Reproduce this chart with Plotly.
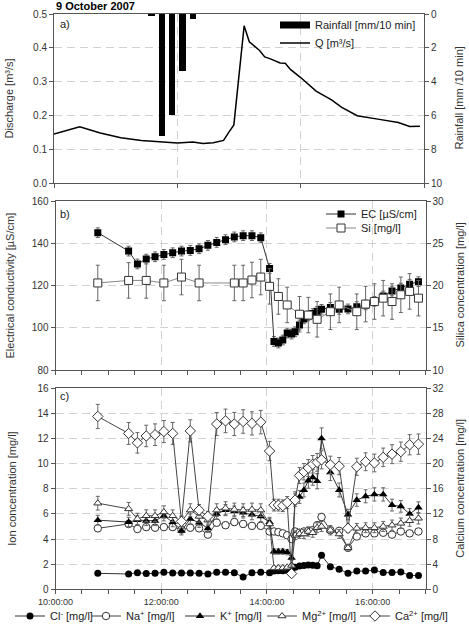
import plotly.graph_objects as go

# ---------------- data ----------------
q_times = ["10:00", "10:25", "10:45", "11:05", "11:25", "11:45", "12:00", "12:15", "12:25", "12:35",
           "12:45", "12:50", "12:55", "13:05", "13:10", "13:15", "13:20", "13:25", "13:30", "13:40",
           "13:45", "13:50", "14:00", "14:15", "14:30", "14:40", "14:55", "15:15", "15:35", "15:46", "15:56"]
q_vals = [0.145, 0.166, 0.148, 0.134, 0.126, 0.122, 0.118, 0.121, 0.117, 0.119,
          0.126, 0.150, 0.172, 0.465, 0.418, 0.405, 0.392, 0.373, 0.368, 0.355,
          0.354, 0.336, 0.312, 0.272, 0.246, 0.224, 0.199, 0.189, 0.179, 0.167, 0.168]

rain_times = ["11:35", "11:45", "11:55", "12:05", "12:15"]
rain_vals = [0.12, 7.2, 6.0, 3.4, 0.3]

ec_times = ["10:48", "11:23", "11:33", "11:43", "11:53", "12:03", "12:13", "12:23", "12:33", "12:43",
            "12:53", "13:03", "13:13", "13:23", "13:33", "13:43", "13:53", "14:03", "14:08", "14:13",
            "14:18", "14:23", "14:28", "14:32", "14:37", "14:42", "14:47", "14:52", "14:57", "15:02",
            "15:12", "15:22", "15:32", "15:42", "15:52", "16:02", "16:12", "16:22", "16:32", "16:42", "16:52"]
ec_vals = [145.0, 136.3, 130.2, 132.5, 133.6, 134.7, 135.5, 136.3, 136.6, 137.4,
           139.0, 140.4, 141.7, 143.0, 143.6, 143.6, 142.6, 128.1, 93.5, 92.8,
           94.2, 97.5, 97.0, 98.1, 101.3, 104.2, 105.6, 106.7, 107.8, 108.7,
           109.6, 108.7, 108.9, 110.0, 110.8, 112.5, 115.0, 117.4, 118.8, 120.6, 121.8]

si_times = ["10:48", "11:23", "11:43", "12:03", "12:23", "12:43", "13:23", "13:33", "13:43", "13:53",
            "14:03", "14:13", "14:23", "14:37", "14:47", "14:57", "15:12", "15:22", "15:42", "15:52",
            "16:02", "16:12", "16:22", "16:32", "16:42", "16:52"]
si_vals = [20.3, 20.6, 20.6, 20.3, 21.0, 20.3, 20.3, 20.3, 20.65, 21.0,
           19.9, 18.7, 17.7, 16.6, 16.5, 16.0, 16.9, 17.7, 16.9, 17.8,
           18.1, 18.5, 18.1, 18.9, 19.3, 18.5]

ion_times = ec_times
cl_vals = [1.27, 1.22, 1.32, 1.25, 1.27, 1.35, 1.30, 1.30, 1.30, 1.28,
           1.22, 1.35, 1.35, 1.32, 0.97, 1.32, 1.35, 1.32, 1.45, 1.48,
           1.48, 1.50, 1.60, 1.75, 1.85, 1.90, 1.93, 1.92, 1.88, 2.70,
           1.80, 1.60, 1.27, 1.45, 1.45, 1.53, 1.33, 1.33, 1.38, 1.10, 1.10]
na_vals = [4.85, 5.20, 4.80, 4.95, 4.90, 4.95, 4.95, 4.75, 4.90, 4.85,
           4.35, 5.30, 5.10, 5.35, 5.20, 5.05, 5.05, 4.60, 4.60, 4.55,
           4.45, 4.30, 4.00, 4.60, 4.50, 4.60, 4.65, 4.70, 5.10, 5.75,
           4.70, 4.65, 3.30, 4.20, 4.45, 4.45, 4.50, 4.35, 4.60, 4.45, 4.60]
k_vals = [5.50, 5.35, 5.50, 5.45, 5.45, 5.85, 5.35, 4.65, 5.60, 5.30,
          4.85, 6.00, 6.30, 6.20, 6.10, 5.95, 5.80, 5.35, 3.00, 3.00,
          3.00, 2.95, 2.50, 7.25, 7.35, 7.90, 8.65, 8.90, 8.60, 12.00,
          9.30, 7.90, 5.95, 7.10, 7.40, 7.55, 7.55, 6.70, 6.60, 6.00, 6.50]
mg_vals = [6.85, 6.40, 5.60, 5.85, 5.85, 6.15, 5.85, 5.40, 6.30, 5.80,
           5.50, 6.30, 6.45, 6.35, 6.30, 6.35, 6.30, 5.20, 1.70, 1.70,
           1.70, 1.75, 1.90, 4.30, 4.40, 4.40, 4.60, 4.50, 4.90, 5.00,
           4.70, 4.40, 3.30, 4.85, 4.90, 4.90, 5.00, 5.10, 5.25, 5.45, 5.65]
ca_vals = [27.5, 24.8, 23.3, 24.4, 24.6, 25.1, 24.8, 10.8, 25.2, 12.6,
           11.6, 26.3, 26.8, 26.3, 26.7, 26.4, 26.6, 22.0, 13.4, 13.4,
           13.3, 13.8, 2.5, 14.2, 18.1, 18.7, 19.3, 19.9, 20.2, 20.6,
           19.8, 19.6, 9.7, 19.5, 20.3, 20.1, 21.0, 21.5, 21.9, 23.0, 23.1]

x_tick_vals = [10, 12, 14, 16]
x_tick_text = ["10:00:00", "12:00:00", "14:00:00", "16:00:00"]


def hrs(t):
    h, m = t.split(":")
    return int(h) + int(m) / 60.0


W, H = 469, 629
FONT = "Liberation Sans, Arial, sans-serif"


def px(p):
    return p / W


def py(p):
    return 1 - p / H


xa_dom = [px(54), px(424)]
xbc_dom = [px(55.5), px(425.5)]
ya_dom = [py(183), py(14)]
yb_dom = [py(370), py(201)]
yc_dom = [py(589.3), py(388.2)]

LINE = "#555"
GRID = "#d2d2d2"
TXT = "#333"
ERR = "#666"

fig = go.Figure()

# ---- panel a ----
fig.add_trace(go.Bar(x=[hrs(t) for t in rain_times], y=rain_vals, xaxis="x", yaxis="y2",
                     marker=dict(color="black", line=dict(width=0)), width=0.105,
                     showlegend=False))
fig.add_trace(go.Scatter(x=[None], y=[None], xaxis="x", yaxis="y2", mode="lines",
                         line=dict(color="black", width=7), name="Rainfall [mm/10 min]",
                         legend="legend"))
fig.add_trace(go.Scatter(x=[hrs(t) for t in q_times], y=q_vals, xaxis="x", yaxis="y",
                         mode="lines", line=dict(color="black", width=1.5),
                         name="Q [m³/s]", legend="legend2"))

# ---- panel b ----
fig.add_trace(go.Scatter(x=[hrs(t) for t in ec_times], y=ec_vals, xaxis="x2", yaxis="y3",
                         mode="lines+markers", line=dict(color="#333", width=1),
                         marker=dict(symbol="square", size=7, color="black"),
                         error_y=dict(type="constant", value=2.3, color=ERR, thickness=1, width=2),
                         name="EC [µS/cm]", legend="legend3"))
fig.add_trace(go.Scatter(x=[hrs(t) for t in si_times], y=si_vals, xaxis="x2", yaxis="y4",
                         mode="lines+markers", line=dict(color="#888", width=1),
                         marker=dict(symbol="square", size=8, color="white",
                                     line=dict(color="#333", width=1)),
                         error_y=dict(type="constant", value=2.1, color=ERR, thickness=1, width=2),
                         name="Si [mg/l]", legend="legend4"))

# ---- panel c ----
tt = [hrs(t) for t in ion_times]
fig.add_trace(go.Scatter(x=tt, y=cl_vals, xaxis="x3", yaxis="y5", mode="lines+markers",
                         line=dict(color="#333", width=1),
                         marker=dict(symbol="circle", size=7, color="black"),
                         name="Cl<sup>-</sup> [mg/l]", legend="legend5"))
fig.add_trace(go.Scatter(x=tt, y=na_vals, xaxis="x3", yaxis="y5", mode="lines+markers",
                         line=dict(color="#444", width=1),
                         marker=dict(symbol="circle", size=7.5, color="white",
                                     line=dict(color="#333", width=1)),
                         error_y=dict(type="percent", value=5, color=ERR, thickness=1, width=2),
                         name="Na<sup>+</sup> [mg/l]", legend="legend6"))
fig.add_trace(go.Scatter(x=tt, y=k_vals, xaxis="x3", yaxis="y5", mode="lines+markers",
                         line=dict(color="#333", width=1),
                         marker=dict(symbol="triangle-up", size=7.5, color="black"),
                         error_y=dict(type="percent", value=7, color=ERR, thickness=1, width=2),
                         name="K<sup>+</sup> [mg/l]", legend="legend7"))
fig.add_trace(go.Scatter(x=tt, y=mg_vals, xaxis="x3", yaxis="y5", mode="lines+markers",
                         line=dict(color="#444", width=1),
                         marker=dict(symbol="triangle-up", size=7, color="white",
                                     line=dict(color="#333", width=1)),
                         error_y=dict(type="percent", value=8, color=ERR, thickness=1, width=2),
                         name="Mg<sup>2+</sup> [mg/l]", legend="legend8"))
fig.add_trace(go.Scatter(x=tt, y=ca_vals, xaxis="x3", yaxis="y6", mode="lines+markers",
                         line=dict(color="#444", width=1),
                         marker=dict(symbol="diamond", size=8, color="white",
                                     line=dict(color="#333", width=1)),
                         error_y=dict(type="percent", value=7, color=ERR, thickness=1, width=2),
                         name="Ca<sup>2+</sup> [mg/l]", legend="legend9"))

# ---- axes ----
base = dict(showline=True, linecolor=LINE, linewidth=1, ticks="outside", ticklen=4,
            tickcolor=LINE, tickfont=dict(size=10, color=TXT, family=FONT), zeroline=False)
grid = dict(showgrid=True, gridcolor=GRID, griddash="8px,5px", gridwidth=1)
nogrid = dict(showgrid=False)

fig.update_layout(
    xaxis=dict(**base, **grid, domain=xa_dom, anchor="y", range=[10, 16], tickmode="linear",
               tick0=10, dtick=2, showticklabels=False, mirror=True),
    yaxis=dict(**base, **grid, domain=ya_dom, anchor="x", range=[0, 0.5], dtick=0.1,
               tickformat=".1f"),
    yaxis2=dict(**base, **nogrid, overlaying="y", side="right", anchor="x", range=[10, 0],
                dtick=2),
    xaxis2=dict(**base, **grid, domain=xbc_dom, anchor="y3", range=[10, 17], tickmode="linear",
                tick0=10, dtick=2, showticklabels=False, mirror=True,
                minor=dict(tick0=10, dtick=0.5, ticks="outside", ticklen=4, tickcolor=LINE,
                           showgrid=False)),
    yaxis3=dict(**base, **grid, domain=yb_dom, anchor="x2", range=[80, 160], dtick=20),
    yaxis4=dict(**base, **nogrid, overlaying="y3", side="right", anchor="x2", range=[10, 30],
                dtick=5),
    xaxis3=dict(**base, **grid, domain=xbc_dom, anchor="y5", range=[10, 17], tickmode="array",
                tickvals=x_tick_vals, ticktext=x_tick_text, mirror=True,
                minor=dict(tick0=10, dtick=0.5, ticks="outside", ticklen=4, tickcolor=LINE,
                           showgrid=False)),
    yaxis5=dict(**base, **grid, domain=yc_dom, anchor="x3", range=[0, 16], dtick=2),
    yaxis6=dict(**base, **nogrid, overlaying="y5", side="right", anchor="x3", range=[0, 32],
                dtick=4),
)
fig.update_xaxes(selector=dict(anchor="y5"), tickfont=dict(size=9, color=TXT, family=FONT))

# ---- legends ----
def leg(xp, yp):
    return dict(x=px(xp), y=py(yp), xanchor="left", yanchor="middle",
                bgcolor="rgba(0,0,0,0)", borderwidth=0,
                font=dict(size=11, color="#222", family=FONT))


fig.update_layout(
    legend=leg(275, 25), legend2=leg(275, 43),
    legend3=leg(321, 214), legend4=leg(321, 228),
    legend5=leg(10, 616), legend6=leg(86, 616), legend7=leg(180, 616),
    legend8=leg(262, 616), legend9=leg(355, 616),
)

# ---- text ----
ann = []
ann.append(dict(text="<b>9 October 2007</b>", x=px(54), y=py(6.5), xanchor="left", yanchor="middle",
                font=dict(size=11, color="black", family=FONT)))
for lab, yy in [("a)", 24), ("b)", 214), ("c)", 396)]:
    ann.append(dict(text=lab, x=px(58), y=py(yy), xanchor="left", yanchor="middle",
                    font=dict(size=11, color="#222", family=FONT)))
for lab, xx, yy in [("Discharge [m³/s]", 9, 98.5),
                    ("Electrical conductivity [µS/cm]", 9, 285.5),
                    ("Ion concentration [mg/l]", 12, 488.7)]:
    ann.append(dict(text=lab, x=px(xx), y=py(yy), xanchor="center", yanchor="middle",
                    textangle=-90, font=dict(size=11, color=TXT, family=FONT)))
for lab, xx, yy in [("Rainfall [mm /10 min]", 459, 98.5),
                    ("Silica concentration [mg/l]", 459, 285.5),
                    ("Calcium concentration [mg/l]", 460, 488.7)]:
    ann.append(dict(text=lab, x=px(xx), y=py(yy), xanchor="center", yanchor="middle",
                    textangle=-90, font=dict(size=11, color=TXT, family=FONT)))
for a in ann:
    a.update(xref="paper", yref="paper", showarrow=False)

fig.update_layout(
    annotations=ann,
    width=W, height=H, autosize=False,
    margin=dict(l=0, r=0, t=0, b=0, autoexpand=False),
    paper_bgcolor="white", plot_bgcolor="white",
    font=dict(family=FONT, color=TXT),
    bargap=0,
)

fig.write_html("out.html")
